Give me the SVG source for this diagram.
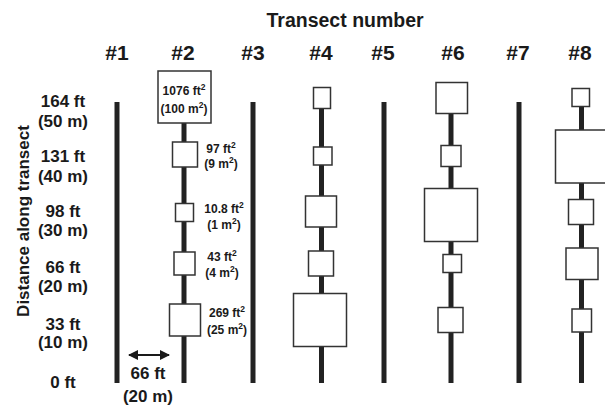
<svg xmlns="http://www.w3.org/2000/svg" width="605" height="407" viewBox="0 0 605 407">
<style>
text{font-family:"Liberation Sans",Arial,sans-serif;font-weight:bold;fill:#1a1a1a}
.hdr{font-size:21px;text-anchor:middle}
.ttl{font-size:19.5px}
.dist{font-size:17px;text-anchor:middle}
.area{font-size:12px;text-anchor:middle}
.line{stroke:#222;stroke-width:5;fill:none}
.plot{fill:#fff;stroke:#333;stroke-width:1.5}
</style>
<defs>
<marker id="ah" viewBox="0 0 10 10" refX="9" refY="5" markerWidth="5" markerHeight="5.5" orient="auto-start-reverse" markerUnits="strokeWidth">
<path d="M0,0 L10,5 L0,10 Z" fill="#1a1a1a"/>
</marker>
</defs>
<rect width="605" height="407" fill="#fff"/>

<g id="titles">
<text class="ttl" x="266.5" y="26.5">Transect number</text>
<text class="hdr" x="117" y="60">#1</text>
<text class="hdr" x="183" y="60">#2</text>
<text class="hdr" x="253" y="60">#3</text>
<text class="hdr" x="321" y="60">#4</text>
<text class="hdr" x="383" y="60">#5</text>
<text class="hdr" x="453" y="60">#6</text>
<text class="hdr" x="518" y="60">#7</text>
<text class="hdr" x="580" y="60">#8</text>
</g>

<g id="axis">
<text class="dist" x="0" y="0" transform="translate(29,221) rotate(-90)">Distance along transect</text>
<text class="dist" x="63" y="107">164 ft</text>
<text class="dist" x="63" y="126.5">(50 m)</text>
<text class="dist" x="63" y="162">131 ft</text>
<text class="dist" x="63" y="181.5">(40 m)</text>
<text class="dist" x="63" y="217">98 ft</text>
<text class="dist" x="63" y="236">(30 m)</text>
<text class="dist" x="63" y="273">66 ft</text>
<text class="dist" x="63" y="292">(20 m)</text>
<text class="dist" x="63" y="330">33 ft</text>
<text class="dist" x="63" y="348">(10 m)</text>
<text class="dist" x="63" y="388">0 ft</text>
</g>

<g id="connectors">
<line class="line" x1="117" y1="102" x2="117" y2="383"/>
<line class="line" x1="184" y1="110" x2="184" y2="383"/>
<line class="line" x1="253" y1="102" x2="253" y2="383"/>
<line class="line" x1="321.5" y1="98" x2="321.5" y2="383"/>
<line class="line" x1="384" y1="102" x2="384" y2="383"/>
<line class="line" x1="451" y1="98" x2="451" y2="383"/>
<line class="line" x1="519" y1="102" x2="519" y2="383"/>
<line class="line" x1="581.5" y1="98" x2="581.5" y2="383"/>
<line x1="129" y1="355" x2="169" y2="355" stroke="#1a1a1a" stroke-width="2" marker-start="url(#ah)" marker-end="url(#ah)"/>
</g>

<g id="spacing-label">
<text class="dist" x="148" y="379">66 ft</text>
<text class="dist" x="148" y="402">(20 m)</text>
</g>

<g id="transect2">
<g id="t2-50"><rect class="plot" x="158" y="71" width="53" height="52"/>
<text class="area" x="184" y="95">1076 ft<tspan baseline-shift="super" font-size="8.5">2</tspan></text>
<text class="area" x="184" y="113">(100 m<tspan baseline-shift="super" font-size="8.5">2</tspan>)</text></g>
<g id="t2-40"><rect class="plot" x="172.5" y="142" width="25" height="25"/>
<text class="area" x="221" y="152.5">97 ft<tspan baseline-shift="super" font-size="8.5">2</tspan></text>
<text class="area" x="221" y="168">(9 m<tspan baseline-shift="super" font-size="8.5">2</tspan>)</text></g>
<g id="t2-30"><rect class="plot" x="175.5" y="203.5" width="18" height="18"/>
<text class="area" x="224" y="213">10.8 ft<tspan baseline-shift="super" font-size="8.5">2</tspan></text>
<text class="area" x="224" y="228.5">(1 m<tspan baseline-shift="super" font-size="8.5">2</tspan>)</text></g>
<g id="t2-20"><rect class="plot" x="174" y="252" width="21" height="23"/>
<text class="area" x="222" y="261">43 ft<tspan baseline-shift="super" font-size="8.5">2</tspan></text>
<text class="area" x="222" y="277">(4 m<tspan baseline-shift="super" font-size="8.5">2</tspan>)</text></g>
<g id="t2-10"><rect class="plot" x="169.5" y="304" width="31" height="32"/>
<text class="area" x="227" y="317">269 ft<tspan baseline-shift="super" font-size="8.5">2</tspan></text>
<text class="area" x="227" y="333.5">(25 m<tspan baseline-shift="super" font-size="8.5">2</tspan>)</text></g>
</g>

<g id="transect4">
<rect id="t4-50" class="plot" x="313.5" y="87.5" width="17" height="21"/>
<rect id="t4-40" class="plot" x="313.5" y="147" width="18.5" height="18"/>
<rect id="t4-30" class="plot" x="305.5" y="196" width="31" height="31"/>
<rect id="t4-20" class="plot" x="308.5" y="251" width="25" height="25"/>
<rect id="t4-10" class="plot" x="293.5" y="293.5" width="53" height="53"/>
</g>

<g id="transect6">
<rect id="t6-50" class="plot" x="436" y="82.5" width="31.5" height="31"/>
<rect id="t6-40" class="plot" x="441" y="145.5" width="20" height="21"/>
<rect id="t6-30" class="plot" x="424.5" y="188.5" width="53" height="53"/>
<rect id="t6-20" class="plot" x="443" y="254.5" width="18.5" height="18"/>
<rect id="t6-10" class="plot" x="438" y="307.5" width="25" height="25"/>
</g>

<g id="transect8">
<rect id="t8-50" class="plot" x="572" y="88.5" width="17.5" height="18"/>
<rect id="t8-40" class="plot" x="555.5" y="130" width="53" height="53"/>
<rect id="t8-30" class="plot" x="568.5" y="199.5" width="25" height="25"/>
<rect id="t8-20" class="plot" x="566" y="248" width="32" height="31.5"/>
<rect id="t8-10" class="plot" x="572" y="309" width="19.5" height="23"/>
</g>
</svg>
